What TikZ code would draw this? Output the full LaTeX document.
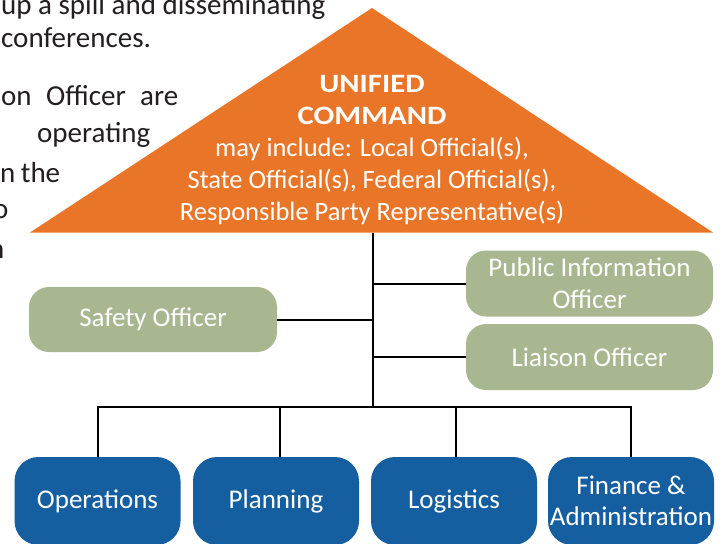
\documentclass[tikz,border=0pt]{standalone}
\usepackage{fontspec}
\setmainfont{Carlito}
\definecolor{ucorange}{RGB}{233,117,41}
\definecolor{offgreen}{RGB}{168,183,143}
\definecolor{secblue}{RGB}{21,94,160}
\definecolor{bodytext}{RGB}{35,31,32}
\newcommand{\widecaps}[1]{\scalebox{1.16}[1]{\bfseries #1}}
\begin{document}
\begin{tikzpicture}[x=1pt,y=-1pt,
  bodyline/.style={anchor=base west,inner sep=0pt,text=bodytext,font=\fontsize{29}{34}\selectfont},
  officer/.style={draw=none,fill=offgreen,rounded corners=20pt,text=white,align=center,
    inner sep=0pt,minimum width=#1,font=\fontsize{27}{32}\selectfont},
  section/.style={draw=none,fill=secblue,rounded corners=24pt,text=white,align=center,
    inner sep=0pt,minimum width=166pt,minimum height=88pt,font=\fontsize{27}{31}\selectfont},
  link/.style={draw=black,line width=2pt}]
\useasboundingbox (0,0) rectangle (724,544);
\fill[white] (0,0) rectangle (724,544);
% body text of the page behind the figure
\node[bodyline] (t1) at (1,14) {up a spill and disseminating};
\node[bodyline] (t2) at (1,47) {conferences.};
\node[bodyline] (t3) at (1,105) {\hbox to 177pt{on\hfill Officer\hfill are}};
\node[bodyline] (t4) at (37,142) {operating};
\node[bodyline] (t5) at (0,182) {\hbox to 60pt{n\hfill the}};
\node[bodyline] (t6) at (-7,218) {o};
\node[bodyline] (t7) at (-11,258) {n};
% unified command triangle
\coordinate (apex) at (372,8);
\coordinate (bl) at (30,232.5);
\coordinate (br) at (713,232.5);
\fill[ucorange] (apex) -- (br) -- (bl) -- cycle;
\node[text=white,align=center,inner sep=0pt,font=\fontsize{26.5}{32}\selectfont] (uc) at (372,150)
  {\widecaps{UNIFIED}\\\widecaps{COMMAND}\\may include: Local Official(s),\\State Official(s), Federal Official(s),\\Responsible Party Representative(s)};
\coordinate (base) at (372.5,232.5);
\coordinate (bus) at (372.5,407);
% officers
\node[officer=248pt,minimum height=65pt] (safety) at (153,319.5) {Safety Officer};
\node[officer=247pt,minimum height=66pt] (pio) at (589.5,283.5) {Public Information\\Officer};
\node[officer=247pt,minimum height=66pt] (liaison) at (589.5,357) {Liaison Officer};
% sections
\node[section] (ops) at (97.5,501) {Operations};
\node[section] (plan) at (276,501) {Planning};
\node[section] (log) at (454,501) {Logistics};
\node[section] (fin) at (631,501) {Finance \&\\Administration};
% connectors
\draw[link] (base) -- (bus);
\draw[link] (safety.east) -- (safety.east -| base);
\draw[link] (pio.west) -- (pio.west -| base);
\draw[link] (liaison.west) -- (liaison.west -| base);
\draw[link] (ops.north) |- (bus) -| (fin.north);
\draw[link] ([xshift=4pt]plan.north) -- ([xshift=4pt]plan.north |- bus);
\draw[link] ([xshift=2pt]log.north) -- ([xshift=2pt]log.north |- bus);
\end{tikzpicture}
\end{document}
